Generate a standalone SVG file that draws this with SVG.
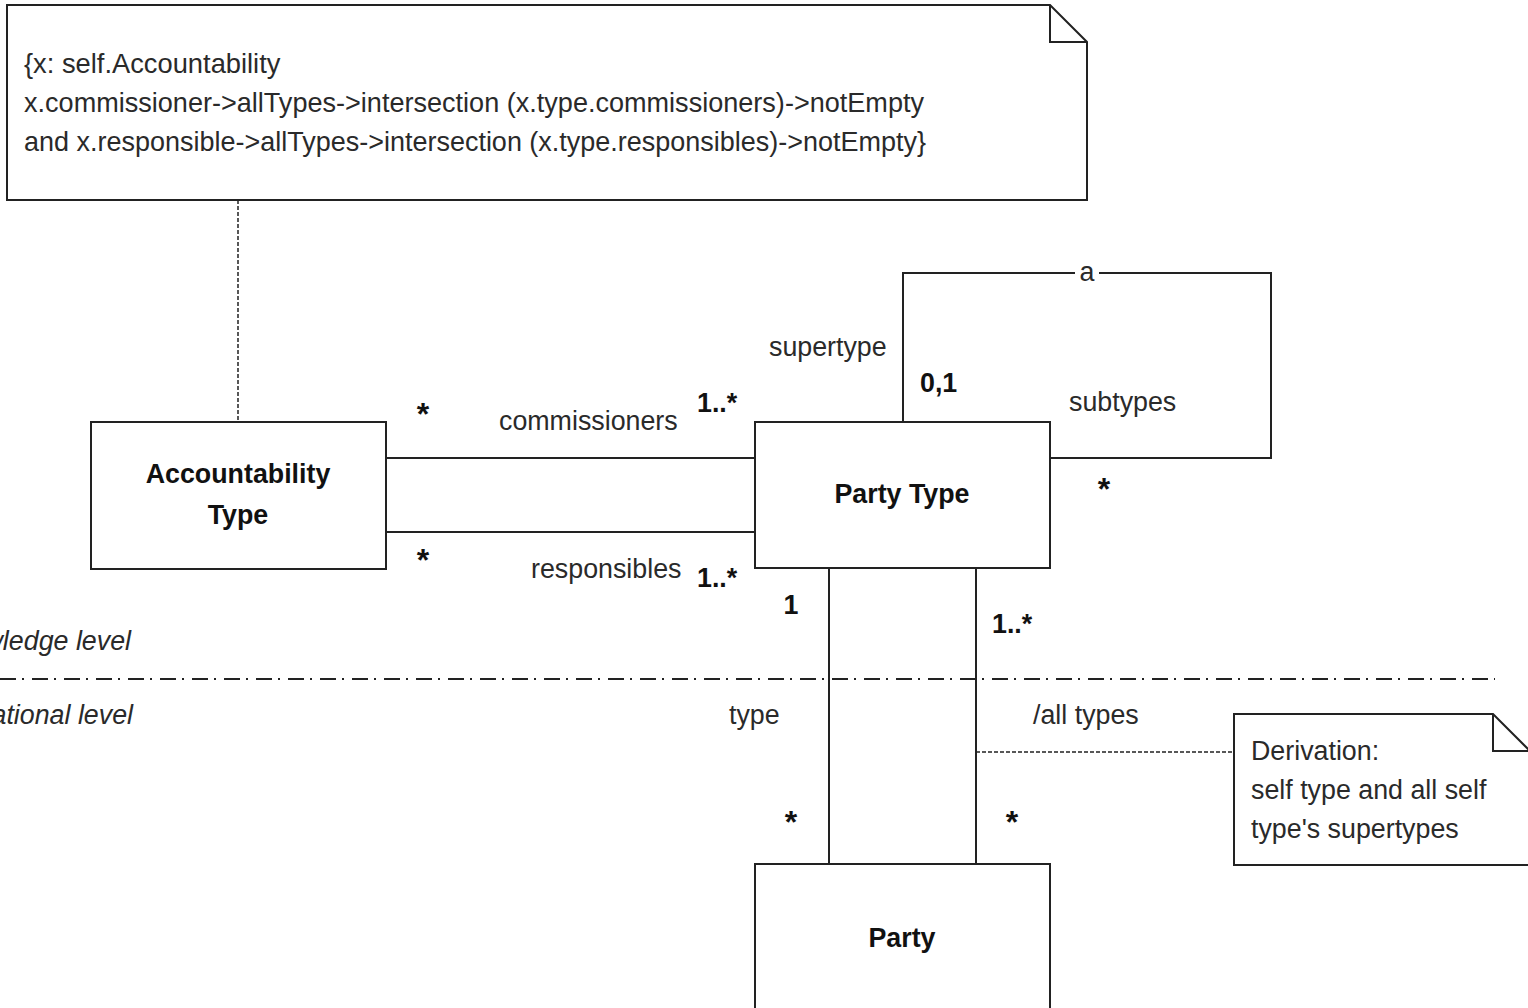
<svg xmlns="http://www.w3.org/2000/svg" width="1528" height="1008" viewBox="0 0 1528 1008">
<style>
  .box{fill:#fff;stroke:#222;stroke-width:2}
  .ln{fill:none;stroke:#222;stroke-width:2}
  .dash{fill:none;stroke:#222;stroke-width:1.5;stroke-dasharray:4 2}
  .dd{fill:none;stroke:#222;stroke-width:2;stroke-dasharray:16 6 2 8}
  text{font-family:"Liberation Sans",Arial,sans-serif;font-size:26.8px;fill:#2a2a2a}
  .b{font-weight:bold;fill:#111}
  .c{text-anchor:middle}
  .e{text-anchor:end}
  .i{font-style:italic}
  .s{font-size:32px}
  .n{font-size:27.3px}
</style>
<rect width="1528" height="1008" fill="#fff"/>

<g id="connectors">
  <line class="dash" x1="238" y1="200" x2="238" y2="422"/>
  <line class="ln" x1="386" y1="458" x2="755" y2="458"/>
  <line class="ln" x1="386" y1="532" x2="755" y2="532"/>
  <polyline class="ln" points="903,422 903,273 1075,273"/>
  <polyline class="ln" points="1099,273 1271,273 1271,458 1050,458"/>
  <line class="ln" x1="829" y1="568" x2="829" y2="864"/>
  <line class="ln" x1="976" y1="568" x2="976" y2="864"/>
  <line class="dash" x1="976" y1="752" x2="1234" y2="752"/>
  <text x="423" y="425" class="b c s">*</text>
  <text x="499" y="430">commissioners</text>
  <text x="697" y="412" class="b">1..*</text>
  <text x="423" y="571" class="b c s">*</text>
  <text x="531" y="578">responsibles</text>
  <text x="697" y="587" class="b">1..*</text>
  <text x="769" y="356">supertype</text>
  <text x="920" y="392" class="b">0,1</text>
  <text x="1069" y="411">subtypes</text>
  <text x="1087" y="281" class="c">a</text>
  <text x="1104" y="500" class="b c s">*</text>
  <text x="791" y="614" class="b c">1</text>
  <text x="992" y="633" class="b">1..*</text>
  <text x="729" y="724">type</text>
  <text x="1033" y="724">/all types</text>
  <text x="791" y="833" class="b c s">*</text>
  <text x="1012" y="833" class="b c s">*</text>
</g>

<g id="levels">
  <line class="dd" x1="0" y1="679" x2="1495" y2="679"/>
  <text x="131" y="650" class="i e">knowledge level</text>
  <text x="133" y="724" class="i e">operational level</text>
</g>

<g id="constraint-note">
  <path class="box" d="M7,5 H1050 L1087,42 V200 H7 Z"/>
  <polyline class="ln" points="1050,5 1050,42 1087,42"/>
  <text x="24" y="73" class="n">{x: self.Accountability</text>
  <text x="24" y="112" class="n" textLength="900" lengthAdjust="spacingAndGlyphs">x.commissioner-&gt;allTypes-&gt;intersection (x.type.commissioners)-&gt;notEmpty</text>
  <text x="24" y="151" class="n" textLength="902" lengthAdjust="spacingAndGlyphs">and x.responsible-&gt;allTypes-&gt;intersection (x.type.responsibles)-&gt;notEmpty}</text>
</g>

<g id="accountability-type">
  <rect class="box" x="91" y="422" width="295" height="147"/>
  <text x="238" y="483" class="b c">Accountability</text>
  <text x="238" y="524" class="b c">Type</text>
</g>

<g id="party-type">
  <rect class="box" x="755" y="422" width="295" height="146"/>
  <text x="902" y="503" class="b c">Party Type</text>
</g>

<g id="party">
  <rect class="box" x="755" y="864" width="295" height="160"/>
  <text x="902" y="947" class="b c">Party</text>
</g>

<g id="derivation-note">
  <path class="box" d="M1234,714 H1493 L1530,751 V865 H1234 Z"/>
  <polyline class="ln" points="1493,714 1493,751 1530,751"/>
  <text x="1251" y="760">Derivation:</text>
  <text x="1251" y="799">self type and all self</text>
  <text x="1251" y="838">type's supertypes</text>
</g>
</svg>
